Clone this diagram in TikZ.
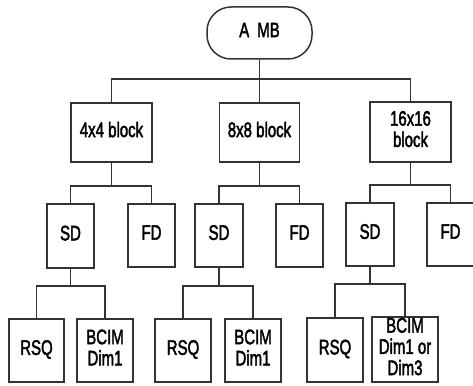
\documentclass[tikz,border=0pt]{standalone}
\usepackage{fontspec}
\setmainfont{Liberation Sans}[UprightFeatures={FakeBold=2.5}]
\usepackage{graphicx}
\newcommand\vtxt[1]{\scalebox{1}[1.4]{\begin{tabular}{@{}c@{}}#1\end{tabular}}}
\begin{document}
\begin{tikzpicture}[x=1pt,y=1pt,
  box/.style={draw=black!80,line width=1.5pt,fill=white,inner sep=0pt,
    font=\fontsize{15}{14.3}\selectfont},
  link/.style={draw=black!80,line width=1.5pt}]
\useasboundingbox (0,0) rectangle (473,-385);
% nodes
\node[box,rounded corners=24pt,minimum width=105pt,minimum height=52pt] (amb) at (259.5,-33) {\vtxt{A\hspace{8pt}MB}};
\node[box,minimum width=81pt,minimum height=59pt] (b4) at (111.5,-132.5) {\vtxt{4x4 block}};
\node[box,minimum width=80pt,minimum height=59pt] (b8) at (259.5,-132.5) {\vtxt{8x8 block}};
\node[box,minimum width=81pt,minimum height=60pt] (b16) at (410.5,-132) {\vtxt{16x16\\block}};
\node[box,minimum width=47pt,minimum height=64pt] (sd1) at (70.5,-236) {\vtxt{SD}};
\node[box,minimum width=47pt,minimum height=63pt] (fd1) at (151.5,-235.5) {\vtxt{FD}};
\node[box,minimum width=48pt,minimum height=63pt] (sd2) at (219,-235.5) {\vtxt{SD}};
\node[box,minimum width=47pt,minimum height=63pt] (fd2) at (299.5,-235.5) {\vtxt{FD}};
\node[box,minimum width=48pt,minimum height=63pt] (sd3) at (370,-234.5) {\vtxt{SD}};
\node[box,minimum width=47pt,minimum height=63pt] (fd3) at (450.5,-234.5) {\vtxt{FD}};
\node[box,minimum width=55pt,minimum height=63pt] (rsq1) at (36.5,-350.5) {\vtxt{RSQ}};
\node[box,minimum width=56pt,minimum height=63pt] (bc1) at (105,-350.5) {\vtxt{BCIM\\Dim1}};
\node[box,minimum width=56pt,minimum height=63pt] (rsq2) at (183,-350.5) {\vtxt{RSQ}};
\node[box,minimum width=56pt,minimum height=63pt] (bc2) at (253,-350.5) {\vtxt{BCIM\\Dim1}};
\node[box,minimum width=56pt,minimum height=64pt] (rsq3) at (335,-350) {\vtxt{RSQ}};
\node[box,minimum width=66pt,minimum height=65pt] (bc3) at (405,-349.5) {\vtxt{BCIM\\Dim1 or\\Dim3}};
% junctions
\coordinate (j0) at (259.5,-79);
\coordinate (j1) at (111.5,-186);
\coordinate (j2) at (259.5,-186);
\coordinate (j3) at (410.5,-185);
\coordinate (k1) at (70.5,-286);
\coordinate (k2) at (219,-286);
\coordinate (k3) at (370,-284);
% connectors
\draw[link] (amb) -- (j0) -- (b8);
\draw[link] (j0) -| (b4);
\draw[link] (j0) -| (b16);
\draw[link] (b4) -- (j1);
\draw[link] (j1) -| (sd1);
\draw[link] (j1) -| (fd1);
\draw[link] (b8) -- (j2);
\draw[link] (j2) -| (sd2);
\draw[link] (j2) -| (fd2);
\draw[link] (b16) -- (j3);
\draw[link] (j3) -| (sd3);
\draw[link] (j3) -| (fd3);
\draw[link] (sd1) -- (k1);
\draw[link] (k1) -| (rsq1);
\draw[link] (k1) -| (bc1);
\draw[link] (sd2) -- (k2);
\draw[link] (k2) -| (rsq2);
\draw[link] (k2) -| (bc2);
\draw[link] (sd3) -- (k3);
\draw[link] (k3) -| (rsq3);
\draw[link] (k3) -| (bc3);
\end{tikzpicture}
\end{document}
